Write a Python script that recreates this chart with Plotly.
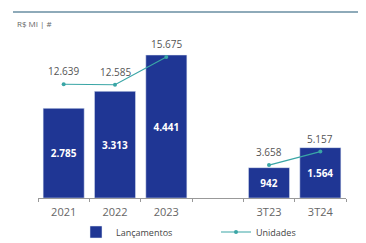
import plotly.graph_objects as go

categories = ["2021", "2022", "2023", "", "3T23", "3T24"]
lancamentos = [2785, 3313, 4441, None, 942, 1564]
unidades = [12639, 12585, 15675, None, 3658, 5157]

def br(v):
    return "" if v is None else f"{v:,}".replace(",", ".")

W, H = 366, 243
ml, mr, mt, mb = 30, 28, 20, 53
ph = H - mt - mb
pw = W - ml - mr
xpos = list(range(len(categories)))

fig = go.Figure()
fig.add_trace(go.Bar(
    x=xpos, y=lancamentos, name="Lançamentos",
    marker_color="#1f3694",
    text=[br(v) for v in lancamentos], textposition="inside",
    insidetextanchor="middle",
    textfont=dict(color="white", size=10, family="Open Sans", weight="bold"),
    width=0.8,
))
fig.add_trace(go.Scatter(
    x=xpos, y=unidades, name="Unidades", yaxis="y2",
    mode="lines+markers", connectgaps=False,
    line=dict(color="#3aa6a6", width=1.2),
    marker=dict(size=4, color="#3aa6a6"),
))
for xp, v in zip(xpos, unidades):
    if v is None:
        continue
    fig.add_annotation(x=xp, y=v, yref="y2", text=br(v), showarrow=False,
                       yshift=13, font=dict(size=10, color="#555", family="Open Sans"))

fig.add_annotation(xref="paper", yref="paper", x=(7 - ml) / pw, y=(H - mb - 15) / ph,
                   xanchor="left", yanchor="middle", text="R$ MI | #", showarrow=False,
                   font=dict(size=8, color="#666", family="Open Sans"))
fig.add_shape(type="line", xref="paper", yref="paper",
              x0=(5 - ml) / pw, x1=(353 - ml) / pw,
              y0=(H - mb - 4) / ph, y1=(H - mb - 4) / ph,
              line=dict(color="#8eaab9", width=2))

fig.update_layout(
    width=W, height=H,
    margin=dict(l=ml, r=mr, t=mt, b=mb, autoexpand=False),
    plot_bgcolor="white", paper_bgcolor="white",
    showlegend=True,
    legend=dict(orientation="h", x=0.5 + 24 / pw, xanchor="center", y=(H - mb - 224) / ph,
                yanchor="middle", font=dict(size=9, color="#444", family="Open Sans"),
                itemwidth=30, entrywidth=95),
    xaxis=dict(range=[-0.5, len(categories) - 0.5],
               tickmode="array", tickvals=xpos, ticktext=categories, ticks="",
               ticklabelstandoff=4,
               minor=dict(ticks="outside", ticklen=3, tickcolor="#999",
                          tick0=-0.5, dtick=1, showgrid=False),
               showline=True, linecolor="#999", linewidth=1,
               tickfont=dict(size=11, color="#666", family="Open Sans"),
               showgrid=False, zeroline=False, fixedrange=True),
    yaxis=dict(range=[0, ph / 0.0322], visible=False, showgrid=False),
    yaxis2=dict(range=[0, ph / 0.009], overlaying="y", visible=False, showgrid=False),
)
fig.write_html("out.html")
